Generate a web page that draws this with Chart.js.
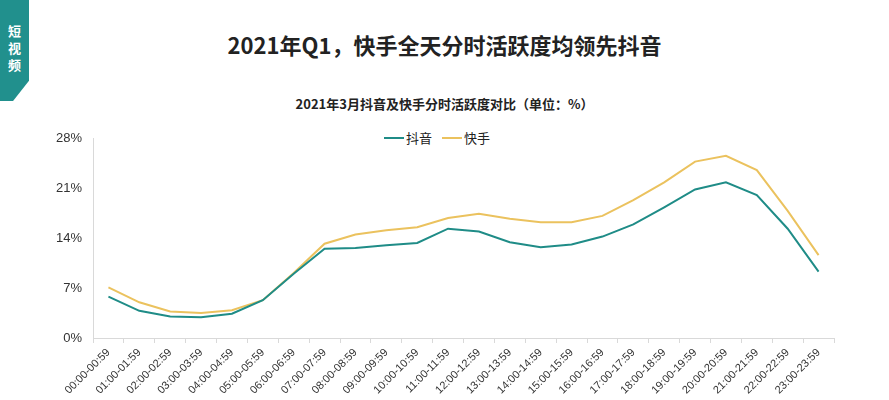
<!DOCTYPE html>
<html>
<head>
<meta charset="utf-8">
<script src="https://cdn.jsdelivr.net/npm/chart.js@4"></script>
<style>
  body { margin: 0; width: 889px; height: 400px; background: #fff; position: relative; overflow: hidden;
         font-family: "Noto Sans CJK SC", "Noto Sans", sans-serif; color: #222; }
  #badge { position: absolute; left: 0; top: 0; width: 29px; height: 101px; background: #21908d;
           clip-path: polygon(0 0, 100% 0, 100% 80%, 45% 100%, 0 100%); color: #fff;
           font-weight: bold; font-size: 13px; line-height: 17px; text-align: center; padding-top: 22px; box-sizing: border-box; }
  #title { position: absolute; top: 28px; left: 0; width: 889px; text-align: center; font-size: 22px; font-weight: bold; }
  #sub { position: absolute; top: 94px; left: 0; width: 889px; text-align: center; font-size: 13px; font-weight: bold; }
  #legend { position: absolute; top: 128px; left: 384px; font-size: 13px; display: flex; align-items: center; }
  #legend span.l { display: inline-block; width: 20px; height: 2px; margin-right: 2px; }
  #wrap { position: absolute; left: 0; top: 90px; width: 889px; height: 310px; }
</style>
</head>
<body>
<div id="badge">短<br>视<br>频</div>
<div id="title">2021年Q1，快手全天分时活跃度均领先抖音</div>
<div id="sub">2021年3月抖音及快手分时活跃度对比（单位：%）</div>
<div id="legend"><span class="l" style="background:#1f8c87"></span>抖音<span class="l" style="background:#ebc25e;margin-left:10px"></span>快手</div>
<div id="wrap"><canvas id="c"></canvas></div>
<script>
const hours = ["00:00-00:59","01:00-01:59","02:00-02:59","03:00-03:59","04:00-04:59","05:00-05:59","06:00-06:59","07:00-07:59","08:00-08:59","09:00-09:59","10:00-10:59","11:00-11:59","12:00-12:59","13:00-13:59","14:00-14:59","15:00-15:59","16:00-16:59","17:00-17:59","18:00-18:59","19:00-19:59","20:00-20:59","21:00-21:59","22:00-22:59","23:00-23:59"];
const douyin = [5.8, 3.8, 3.0, 2.9, 3.4, 5.3, 9.0, 12.5, 12.6, 13.0, 13.3, 15.3, 14.9, 13.4, 12.7, 13.1, 14.2, 15.9, 18.3, 20.8, 21.8, 20.0, 15.3, 9.3];
const kuaishou = [7.1, 5.0, 3.7, 3.5, 3.9, 5.3, 9.1, 13.2, 14.5, 15.1, 15.5, 16.8, 17.4, 16.7, 16.2, 16.2, 17.1, 19.3, 21.8, 24.7, 25.5, 23.5, 17.8, 11.6];

new Chart(document.getElementById("c"), {
    type: "line",
    data: {
        labels: hours,
        datasets: [
            { label: "抖音", data: douyin, borderColor: "#1f8c87", borderWidth: 2, pointRadius: 0, tension: 0 },
            { label: "快手", data: kuaishou, borderColor: "#ebc25e", borderWidth: 2, pointRadius: 0, tension: 0 }
        ]
    },
    options: {
        responsive: true,
        maintainAspectRatio: false,
        animation: false,
        layout: { padding: { top: 48, left: 43, right: 55 } },
        plugins: { legend: { display: false }, tooltip: { enabled: false } },
        scales: {
            x: {
                offset: true,
                grid: { drawOnChartArea: false, offset: true, tickLength: 5, color: "#d9d9d9" },
                border: { color: "#d9d9d9" },
                ticks: { maxRotation: 45, minRotation: 45, autoSkip: false, color: "#333", font: { size: 11 } },
                afterFit: s => { s.height = 62; }
            },
            y: {
                min: 0, max: 28,
                grid: { display: false },
                border: { color: "#d9d9d9" },
                ticks: { stepSize: 7, color: "#333", font: { size: 13 }, callback: v => v + "%" },
                afterFit: s => { s.width = 50; }
            }
        }
    }
});
</script>
</body>
</html>
